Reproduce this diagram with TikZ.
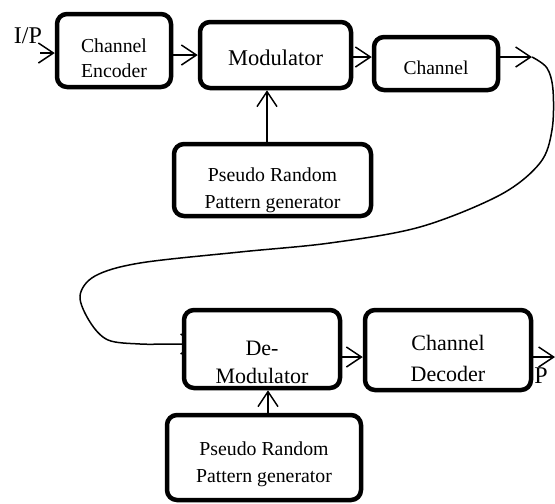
\documentclass[tikz,border=0pt]{standalone}
\usepackage{fontspec}
\setmainfont{Liberation Serif}
\usetikzlibrary{arrows.meta,backgrounds}
\begin{document}
\begin{tikzpicture}[x=1pt,y=-1pt,
  blk/.style={draw,line width=4.5pt,rounded corners=10pt,fill=white,inner sep=0pt},
  txt/.style={align=center,inner sep=0pt},
  conn/.style={line width=1.5pt,-{Straight Barb[length=15pt,width=20pt]}},
  wire/.style={line width=1.5pt}]
\useasboundingbox (0,0) rectangle (555,504);
\node[blk,minimum width=114pt,minimum height=73pt] (enc) at (114,50.5) {};
\node[blk,minimum width=151pt,minimum height=66pt] (mod) at (275.5,55) {};
\node[blk,minimum width=124pt,minimum height=53pt] (chan) at (436,63.5) {};
\node[blk,minimum width=197pt,minimum height=72pt] (pr1) at (272.5,180) {};
\node[blk,minimum width=156pt,minimum height=78pt] (dem) at (262,349) {};
\node[blk,minimum width=166pt,minimum height=80pt] (dec) at (448,350) {};
\node[blk,minimum width=194pt,minimum height=85pt] (pr2) at (264,457.5) {};
\node[txt,font=\fontsize{19.8}{25}\selectfont] (enct) at ([yshift=-7.5pt]enc.center) {Channel\\Encoder};
\node[txt,font=\fontsize{22.5}{27}\selectfont] (modt) at ([yshift=-3pt]mod.center) {Modulator};
\node[txt,font=\fontsize{19.5}{24}\selectfont] (chant) at ([yshift=-4.5pt]chan.center) {Channel};
\node[txt,font=\fontsize{19.8}{27}\selectfont] (pr1t) at ([yshift=-10pt]pr1.center) {Pseudo Random\\Pattern generator};
\node[txt,font=\fontsize{22}{28}\selectfont] (demt) at ([yshift=-13pt]dem.center) {De-\\Modulator};
\node[txt,font=\fontsize{22}{31}\selectfont] (dect) at ([yshift=-8.5pt]dec.center) {Channel\\Decoder};
\node[txt,font=\fontsize{19.8}{27}\selectfont] (pr2t) at ([yshift=-7pt]pr2.center) {Pseudo Random\\Pattern generator};
\node[font=\fontsize{24}{28}\selectfont,inner sep=0pt] (ip) at (28,36) {I/P};
\node[font=\fontsize{24}{28}\selectfont,inner sep=0pt] (op) at (541,376) {P};
\coordinate (ipstart) at (40,53);
\coordinate (ya) at (0,53);
\coordinate (yb) at (0,57);
\coordinate (xa) at (267,0);
\coordinate (xb) at (268,0);
\coordinate (yc) at (0,357);
\coordinate (tip) at (532,57);
\coordinate (outend) at (555,357);
\begin{scope}[on background layer]
\draw[conn] (ipstart) -- (enc.west |- ya);
\draw[conn] (enc.east |- mod.west) -- (mod.west);
\draw[conn] (mod.east |- yb) -- (chan.west |- yb);
\draw[conn] (chan.east |- yb) -- (tip);
\draw[conn] (pr1.north -| xa) -- (mod.south -| xa);
\draw[conn] (pr2.north -| xb) -- (dem.south -| xb);
\draw[conn] (dem.east |- yc) -- (dec.west |- yc);
\draw[conn] (dec.east |- yc) -- (outend);
\draw[wire,-{Straight Barb[length=15pt,width=20pt]}] plot[smooth,tension=0.55] coordinates {(532,57) (547,68) (553,90) (552,130) (540,163) (500,195) (420,227) (330,243) (240,252) (140,263) (95,276) (80,296) (90,322) (108,340) (140,344) (170,344) (197,344)};
\end{scope}
\end{tikzpicture}
\end{document}
